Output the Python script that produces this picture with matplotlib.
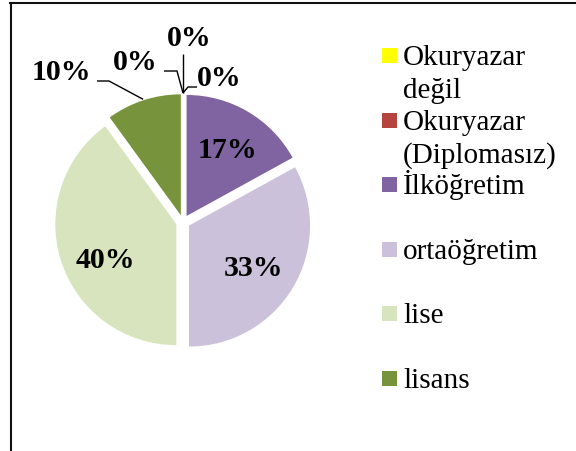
import matplotlib
matplotlib.use('Agg')
import math
import matplotlib.pyplot as plt
from matplotlib.lines import Line2D
from matplotlib.patches import Rectangle

# ---- data ----
categories = ['Okuryazar\ndeğil', 'Okuryazar\n(Diplomasız)', 'İlköğretim',
              'ortaöğretim', 'lise', 'lisans', 'lisansüstü']
values = [0, 0, 17, 33, 40, 10, 0]
colors = ['#FFFF00', '#B5443F', '#8064A2', '#CCC1DA', '#D7E4BD', '#77933C', '#4BACC6']
legend_count = 6

# ---- layout (pixel coords, y measured from top) ----
W, H = 576, 452
cx, cy, r = 183, 223, 121
explode = 7
# label centre positions (image coords) for each slice
label_pos = [(189, 38), (219, 78), (227, 150), (253, 268), (105, 261), (61, 73), (135, 62)]
# leader line start / elbow points (None => no leader)
leaders = [[(183, 55)],
           [(197, 88), (188, 88)],
           None, None, None,
           [(97, 82), (109, 82)],
           [(164, 72), (177, 72)]]

fig = plt.figure(figsize=(W / 100, H / 100), dpi=100)
ax = fig.add_axes([0, 0, 1, 1])

wedges, _ = ax.pie(values, colors=colors, startangle=90, counterclock=False,
                   radius=r, center=(cx, H - cy), explode=[explode] * len(values),
                   wedgeprops=dict(linewidth=0))
ax.set_xlim(0, W)
ax.set_ylim(0, H)
ax.set_aspect('equal')
ax.axis('off')

lab_font = dict(family='Liberation Serif', fontsize=21.5, fontweight='bold', color='black')
for i, (w, v) in enumerate(zip(wedges, values)):
    lx, ly = label_pos[i]
    ax.text(lx, H - ly, f'{v}%', ha='center', va='center', **lab_font)
    if leaders[i] is not None:
        tm = math.radians((w.theta1 + w.theta2) / 2)
        ex = w.center[0] + (r + 1) * math.cos(tm)
        ey = w.center[1] + (r + 1) * math.sin(tm)
        pts = [(x, H - y) for x, y in leaders[i]] + [(ex, ey)]
        ax.plot([p[0] for p in pts], [p[1] for p in pts], color='black', lw=1.0,
                solid_capstyle='butt')

# ---- legend (manual, handle aligned to first text line) ----
leg_x_box, leg_x_text = 382, 403
first_base, step, line_h = 65, 64.6, 33
for i in range(legend_count):
    base = first_base + i * step
    ax.add_patch(Rectangle((leg_x_box, H - (base - 1)), 15, 15, facecolor=colors[i],
                           edgecolor='none'))
    for j, line in enumerate(categories[i].split('\n')):
        ax.text(leg_x_text, H - (base + j * line_h), line, ha='left', va='baseline',
                family='Liberation Serif', fontsize=21, color='black')

# ---- chart frame (cropped at right/bottom) ----
fig.add_artist(Line2D([10.5 / W, 10.5 / W], [0, (H - 4) / H], transform=fig.transFigure,
                      color='#111111', lw=1.5))
fig.add_artist(Line2D([10 / W, 1], [(H - 4) / H, (H - 4) / H], transform=fig.transFigure,
                      color='#111111', lw=1.5))

fig.savefig('out.png', dpi=100)
